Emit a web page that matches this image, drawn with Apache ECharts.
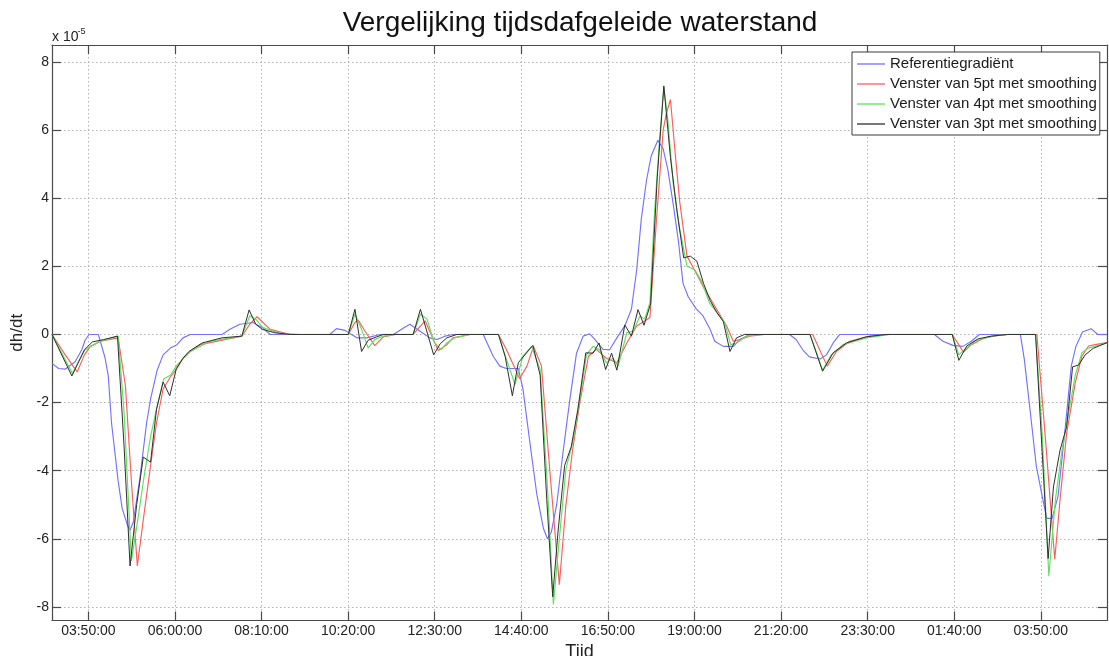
<!DOCTYPE html>
<html>
<head>
<meta charset="utf-8">
<script src="https://cdn.jsdelivr.net/npm/echarts@6.0.0/dist/echarts.min.js"></script>
<style>
html,body{margin:0;padding:0;background:#fff;}
#chart{width:1109px;height:656px;}
</style>
</head>
<body>
<div id="chart"></div>
<script>
// Time in minutes after 00:00 on the first day, value in units of 1e-5 (dh/dt).
const referentie = [[175,-0.85],[185,-1.0],[195,-1.02],[210,-0.8],[220,-0.45],[225,-0.17],[231,0],[245,0],[255,-0.67],[260,-1.2],[265,-2.6],[275,-4.3],[281,-5.1],[289,-5.6],[293,-5.75],[298,-5.5],[308,-4.2],[318,-2.6],[324,-1.9],[334,-1.05],[343,-0.6],[354,-0.4],[364,-0.3],[373,-0.1],[384,0],[432,0],[444,0.15],[459,0.3],[479,0.35],[493,0.2],[505,0],[595,0],[605,0.17],[618,0.12],[626,0.02],[636,-0.1],[651,-0.1],[671,0],[691,0],[709,0.22],[716,0.3],[731,0.1],[746,-0.1],[757,-0.15],[769,-0.05],[781,0],[827,0],[842,-0.64],[852,-0.93],[862,-1.0],[880,-1.0],[887,-1.6],[897,-3.1],[908,-4.7],[918,-5.7],[924,-6.0],[930,-5.8],[938,-5.0],[948,-3.4],[958,-1.9],[968,-0.55],[978,-0.05],[988,0.02],[996,-0.15],[1008,-0.44],[1018,-0.45],[1029,-0.1],[1041,0.25],[1051,0.74],[1059,1.9],[1066,3.4],[1074,4.55],[1081,5.25],[1091,5.7],[1099,5.45],[1106,4.85],[1114,3.85],[1122,2.75],[1129,1.5],[1137,1.1],[1149,0.75],[1159,0.55],[1170,0.15],[1177,-0.2],[1190,-0.35],[1205,-0.35],[1215,-0.15],[1230,0],[1290,0],[1300,-0.15],[1310,-0.45],[1320,-0.66],[1336,-0.72],[1346,-0.6],[1356,-0.25],[1366,0],[1509,0],[1522,-0.2],[1537,-0.32],[1552,-0.35],[1565,-0.2],[1577,0],[1639,0],[1645,-0.73],[1653,-2.1],[1663,-3.85],[1673,-4.85],[1679,-5.4],[1687,-5.4],[1696,-4.75],[1706,-2.9],[1716,-0.93],[1723,-0.35],[1733,0.07],[1746,0.17],[1756,0],[1770,0]];

const venster5 = [[175,0],[195,-0.6],[213,-1.1],[224,-0.6],[233,-0.35],[248,-0.2],[275,-0.1],[286,-1.5],[295,-4.3],[304,-6.8],[314,-5.3],[324,-3.85],[333,-2.6],[343,-1.6],[354,-1.25],[364,-1.0],[373,-0.7],[384,-0.5],[399,-0.3],[462,-0.05],[474,0.3],[485,0.52],[494,0.35],[505,0.15],[535,0],[623,0],[633,0.35],[638,0.42],[648,0.1],[663,-0.33],[676,-0.07],[694,0],[721,0],[739,0.4],[759,-0.47],[772,-0.3],[781,-0.1],[807,0],[850,0],[862,-0.44],[882,-1.3],[893,-0.93],[903,-0.35],[915,-0.93],[927,-3.85],[942,-7.35],[952,-5.0],[962,-3.4],[973,-2.0],[986,-0.64],[998,-0.44],[1013,-0.7],[1029,-0.83],[1044,-0.25],[1059,0.25],[1074,0.43],[1079,0.5],[1089,3.4],[1099,6.0],[1104,6.5],[1110,6.9],[1117,5.35],[1124,3.9],[1135,2.3],[1149,1.8],[1159,1.42],[1174,0.93],[1195,0.25],[1205,-0.2],[1215,-0.15],[1230,-0.05],[1252,0],[1325,0],[1347,-0.93],[1361,-0.5],[1381,-0.2],[1411,-0.05],[1441,0],[1536,0],[1553,-0.52],[1565,-0.3],[1585,-0.1],[1605,-0.03],[1620,0],[1664,0],[1677,-3.08],[1691,-6.6],[1699,-4.85],[1709,-2.9],[1722,-1.42],[1732,-0.64],[1742,-0.34],[1752,-0.3],[1770,-0.24]];

const venster4 = [[175,0],[206,-1.15],[215,-0.8],[225,-0.45],[248,-0.2],[275,-0.05],[284,-2.3],[295,-6.65],[305,-5.4],[314,-4.2],[324,-3.0],[334,-2.1],[344,-1.3],[354,-1.2],[364,-0.9],[384,-0.5],[414,-0.2],[462,-0.05],[474,0.55],[483,0.45],[494,0.2],[520,0.03],[550,0],[623,0],[633,0.6],[643,0.15],[653,-0.4],[663,-0.15],[676,-0.05],[694,0],[721,0],[732,0.6],[742,0.45],[752,-0.2],[763,-0.45],[772,-0.25],[784,-0.1],[807,0],[850,0],[857,-0.44],[875,-1.47],[887,-0.64],[900,-0.35],[913,-1.03],[924,-4.45],[933,-7.93],[942,-6.0],[952,-3.95],[963,-3.1],[973,-1.9],[983,-0.6],[993,-0.35],[1003,-0.45],[1013,-0.83],[1023,-0.7],[1031,-0.93],[1044,0.05],[1054,0.1],[1064,0.54],[1071,0.45],[1079,0.93],[1086,3.6],[1094,5.85],[1100,7.25],[1106,6.3],[1114,4.45],[1124,3.1],[1135,2.0],[1147,1.9],[1157,1.57],[1169,0.93],[1192,0.35],[1201,-0.3],[1210,-0.25],[1225,-0.05],[1245,0],[1321,0],[1340,-1.05],[1353,-0.6],[1371,-0.3],[1406,-0.1],[1441,0],[1536,0],[1546,-0.6],[1555,-0.44],[1570,-0.2],[1595,-0.05],[1620,0],[1662,0],[1672,-2.9],[1682,-7.1],[1692,-4.85],[1702,-3.4],[1722,-1.2],[1732,-0.54],[1742,-0.4],[1770,-0.25]];

const venster3 = [[175,0],[205,-1.22],[224,-0.45],[236,-0.22],[253,-0.15],[274,-0.05],[284,-3.3],[293,-6.8],[303,-5.0],[313,-3.6],[324,-3.75],[333,-2.2],[343,-1.4],[353,-1.8],[363,-1.0],[373,-0.7],[382,-0.5],[402,-0.25],[432,-0.1],[462,-0.05],[473,0.72],[483,0.3],[493,0.15],[512,0.05],[535,0],[623,0],[633,0.74],[643,-0.5],[653,-0.17],[666,-0.07],[676,0],[721,0],[732,0.74],[752,-0.6],[762,-0.27],[772,-0.1],[787,0],[850,0],[860,-0.64],[871,-1.8],[880,-0.83],[902,-0.32],[913,-1.2],[923,-4.85],[932,-7.7],[940,-5.8],[950,-3.85],[960,-3.3],[970,-2.2],[982,-0.54],[993,-0.55],[1002,-0.25],[1012,-1.03],[1021,-0.55],[1029,-1.05],[1041,0.28],[1051,-0.05],[1061,0.73],[1070,0.27],[1080,0.9],[1090,4.6],[1100,7.3],[1110,5.2],[1120,3.6],[1130,2.25],[1140,2.3],[1150,2.15],[1160,1.5],[1170,1.0],[1180,0.65],[1190,0.38],[1200,-0.5],[1210,-0.1],[1222,0],[1321,0],[1340,-1.08],[1356,-0.54],[1376,-0.25],[1406,-0.07],[1436,0],[1536,0],[1546,-0.76],[1558,-0.34],[1575,-0.13],[1595,-0.05],[1620,0],[1662,0],[1681,-6.58],[1689,-4.48],[1699,-3.4],[1709,-2.71],[1718,-0.95],[1727,-0.9],[1737,-0.6],[1749,-0.41],[1770,-0.24]];

const seriesNames = ['Referentiegradiënt', 'Venster van 5pt met smoothing', 'Venster van 4pt met smoothing', 'Venster van 3pt met smoothing'];
const seriesColors = ['#7272ff', '#ff5c5c', '#5ee05e', '#2e2e2e'];

// Time ticks: twelve evenly spaced marks over one day, with their printed labels
const tickLabels = ['03:50:00','06:00:00','08:10:00','10:20:00','12:30:00','14:40:00','16:50:00','19:00:00','21:20:00','23:30:00','01:40:00','03:50:00'];
const tickStart = 230;
const tickStep = 1440 / 11;
const tickValues = tickLabels.map((_, k) => tickStart + k * tickStep);
const yTicks = [-8, -6, -4, -2, 0, 2, 4, 6, 8];

const X_MIN = 175, X_MAX = 1770, Y_MIN = -8.4, Y_MAX = 8.5;

const FONT = 'Liberation Sans, Arial, Helvetica, sans-serif';
const TEXT = '#222';
const frame = { color: '#4a4a4a', width: 1.2 };
const grid = { color: '#b3b3b3', width: 1, type: [1.5, 2.5] };

function timeLabel(v) {
  const k = Math.round((v - tickStart) / tickStep);
  return tickLabels[k] || '';
}

const chart = echarts.init(document.getElementById('chart'), null, { renderer: 'canvas' });

const allSeries = [referentie, venster5, venster4, venster3].map((d, i) => ({
  name: seriesNames[i],
  type: 'line',
  data: d,
  xAxisIndex: 0,
  yAxisIndex: 0,
  symbol: 'none',
  smooth: false,
  clip: true,
  lineStyle: { color: seriesColors[i], width: i === 3 ? 1 : 1.15 },
  itemStyle: { color: seriesColors[i] },
  emphasis: { disabled: true }
}));

chart.setOption({
  animation: false,
  backgroundColor: '#fff',
  grid: { left: 52, right: 2, top: 45, bottom: 35.5, containLabel: false, outerBoundsMode: 'none' },
  graphic: [
    { type: 'text', x: 580, y: 23, style: { text: 'Vergelijking tijdsdafgeleide waterstand', font: '28px ' + FONT, fill: '#111', textAlign: 'center', textVerticalAlign: 'middle' } },
    { type: 'text', x: 52, y: 37, style: { text: 'x 10', font: '14px ' + FONT, fill: TEXT, textAlign: 'left', textVerticalAlign: 'middle' } },
    { type: 'text', x: 77.5, y: 31.5, style: { text: '-5', font: '9px ' + FONT, fill: TEXT, textAlign: 'left', textVerticalAlign: 'middle' } }
  ],
  legend: {
    orient: 'vertical',
    left: 852, top: 52,
    padding: [4, 3, 3, 5],
    itemGap: 4,
    itemWidth: 28,
    itemHeight: 1.3,
    icon: 'rect',
    backgroundColor: '#fff',
    borderColor: '#3a3a3a',
    borderWidth: 1,
    borderRadius: 0,
    selectedMode: false,
    textStyle: { fontSize: 15, color: '#1a1a1a', fontFamily: FONT, lineHeight: 16 },
    data: seriesNames
  },
  xAxis: [
    {
      type: 'value', min: X_MIN, max: X_MAX, position: 'bottom',
      axisLine: { show: true, onZero: false, lineStyle: frame },
      axisTick: { show: true, inside: true, length: 9, customValues: tickValues, lineStyle: frame },
      axisLabel: { show: true, customValues: tickValues, formatter: timeLabel, margin: 4, color: TEXT, fontSize: 14, fontFamily: FONT },
      splitLine: { show: true, lineStyle: grid },
      name: 'Tijd', nameLocation: 'middle', nameGap: 14,
      nameTextStyle: { fontSize: 18, color: TEXT, fontFamily: FONT }
    },
    {
      type: 'value', min: X_MIN, max: X_MAX, position: 'top',
      axisLine: { show: true, onZero: false, lineStyle: frame },
      axisTick: { show: true, inside: true, length: 9, customValues: tickValues, lineStyle: frame },
      axisLabel: { show: false },
      splitLine: { show: false }
    }
  ],
  yAxis: [
    {
      type: 'value', min: Y_MIN, max: Y_MAX, position: 'left',
      axisLine: { show: true, onZero: false, lineStyle: frame },
      axisTick: { show: true, inside: true, length: 9, customValues: yTicks, lineStyle: frame },
      axisLabel: { show: true, customValues: yTicks, margin: 3, color: TEXT, fontSize: 14, fontFamily: FONT },
      splitLine: { show: true, lineStyle: grid },
      name: 'dh/dt', nameLocation: 'middle', nameGap: 26, nameRotate: 90,
      nameTextStyle: { fontSize: 17, color: TEXT, fontFamily: FONT }
    },
    {
      type: 'value', min: Y_MIN, max: Y_MAX, position: 'right',
      axisLine: { show: true, onZero: false, lineStyle: frame },
      axisTick: { show: true, inside: true, length: 9, customValues: yTicks, lineStyle: frame },
      axisLabel: { show: false },
      splitLine: { show: false }
    }
  ],
  series: allSeries
});
</script>
</body>
</html>
